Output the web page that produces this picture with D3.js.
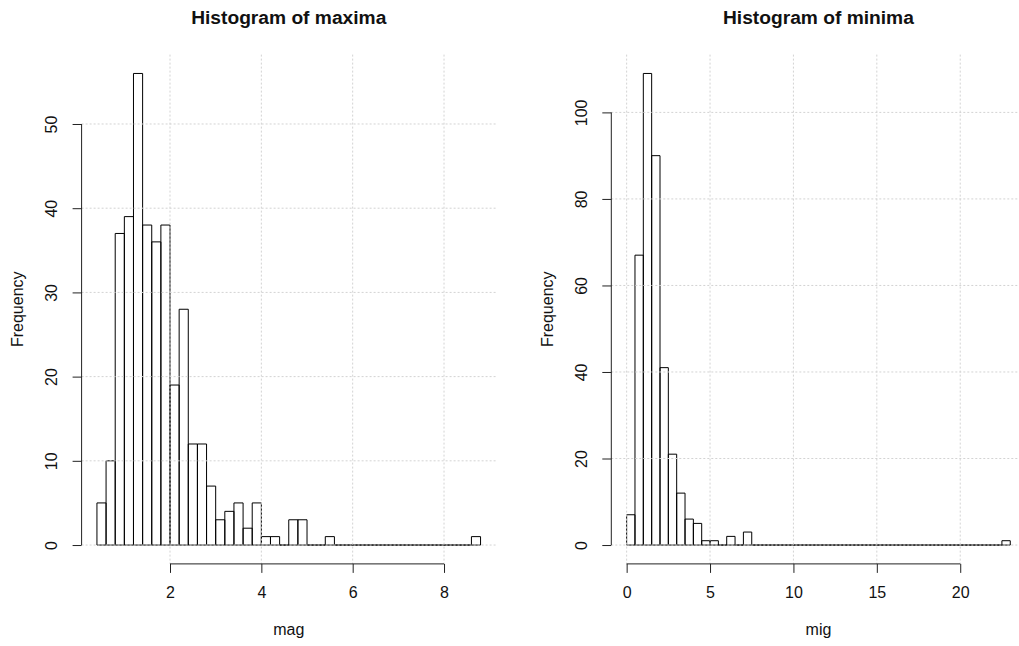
<!DOCTYPE html>
<html><head><meta charset="utf-8">
<script src="https://cdn.jsdelivr.net/npm/d3@7"></script>
<style>
body{margin:0;background:#fff}
svg{display:block}
text{font-family:"Liberation Sans",Arial,Helvetica,sans-serif;fill:#111}
</style>
</head><body>
<svg id="c" width="1019" height="646"></svg>
<script>
// ---- data ----
const maximaBreakStart = 0.4;
const maximaBinWidth = 0.2;
const maximaCounts = [5,10,37,39,56,38,36,38,19,28,12,12,7,3,4,5,2,5,1,1,0,3,3,0,0,1,
  0,0,0,0,0,0,0,0,0,0,0,0,0,0,0,1];
const maximaXTicks = [2,4,6,8];
const maximaYTicks = [0,10,20,30,40,50];

const minimaBreakStart = 0;
const minimaBinWidth = 0.5;
const minimaCounts = [7,67,109,90,41,21,12,6,5,1,1,0,2,0,3,
  0,0,0,0,0,0,0,0,0,0,0,0,0,0,0,0,0,0,0,0,0,0,0,0,0,0,0,0,0,0,1];
const minimaXTicks = [0,5,10,15,20];
const minimaYTicks = [0,20,40,60,80,100];

const titles = ["Histogram of maxima","Histogram of minima"];
const xLabels = ["mag","mig"];
const yLabel = "Frequency";

// ---- layout ----
const svg = d3.select("#c");
const plotTop = 54.6, plotBottom = 563.9;
const panels = [
  {left:81.6, right:495.9, start:maximaBreakStart, w:maximaBinWidth, counts:maximaCounts, xt:maximaXTicks, yt:maximaYTicks, title:titles[0], xl:xLabels[0]},
  {left:611.3, right:1025.6, start:minimaBreakStart, w:minimaBinWidth, counts:minimaCounts, xt:minimaXTicks, yt:minimaYTicks, title:titles[1], xl:xLabels[1]}
];

panels.forEach(p => {
  const n = p.counts.length;
  const b0 = p.start, bN = p.start + n*p.w;
  const span = bN - b0;
  const x = d3.scaleLinear().domain([b0 - 0.04*span, bN + 0.04*span]).range([p.left, p.right]);
  const maxC = d3.max(p.counts);
  const y = d3.scaleLinear().domain([-0.04*maxC, maxC*1.04]).range([plotBottom, plotTop]);
  const g = svg.append("g");

  const bins = p.counts.map((c,i) => ({x0: b0 + i*p.w, x1: b0 + (i+1)*p.w, c}));
  g.selectAll("path.bar").data(bins).enter().append("path")
    .attr("class","bar")
    .attr("d", d => `M${x(d.x0)},${y(0)}V${y(d.c)}H${x(d.x1)}V${y(0)}Z`)
    .attr("fill","none").attr("stroke","#000").attr("stroke-width",1);

  // grid (drawn after bars, as in the original)
  g.selectAll("line.vg").data(p.xt).enter().append("line")
    .attr("x1", d => x(d)).attr("x2", d => x(d))
    .attr("y1", plotTop).attr("y2", plotBottom)
    .attr("stroke","#d3d3d3").attr("stroke-dasharray","2,2");
  g.selectAll("line.hg").data(p.yt).enter().append("line")
    .attr("y1", d => y(d)).attr("y2", d => y(d))
    .attr("x1", p.left).attr("x2", p.right)
    .attr("stroke","#d3d3d3").attr("stroke-dasharray","2,2");

  // x axis
  const xa = g.append("g").attr("transform",`translate(0,${plotBottom})`)
    .call(d3.axisBottom(x).tickValues(p.xt).tickSize(9).tickPadding(14).tickFormat(d3.format("d")));
  xa.select(".domain").remove();
  xa.selectAll(".tick line").attr("stroke","#222");
  xa.selectAll(".tick text").attr("font-size","16px").attr("fill","#111");
  xa.append("line").attr("x1", x(p.xt[0])).attr("x2", x(p.xt[p.xt.length-1]))
    .attr("stroke","#222");
  xa.attr("font-family",null);

  // y axis
  const ya = g.append("g").attr("transform",`translate(${p.left},0)`)
    .call(d3.axisLeft(y).tickValues(p.yt).tickSize(9).tickFormat(d3.format("d")));
  ya.select(".domain").remove();
  ya.selectAll(".tick line").attr("stroke","#222");
  ya.selectAll(".tick text")
    .attr("x", null).attr("dy", null)
    .attr("text-anchor","middle")
    .attr("transform","translate(-24.6,0) rotate(-90)")
    .attr("font-size","16px").attr("fill","#111");
  ya.append("line").attr("y1", y(p.yt[0])).attr("y2", y(p.yt[p.yt.length-1]))
    .attr("stroke","#222");
  ya.attr("font-family",null);

  const cx = (p.left + p.right)/2;
  g.append("text").attr("x", cx).attr("y", 24).attr("text-anchor","middle")
    .attr("font-size","19.2px").attr("font-weight","bold").attr("fill","#000").text(p.title);
  g.append("text").attr("x", cx).attr("y", 635).attr("text-anchor","middle")
    .attr("font-size","16px").text(p.xl);
  g.append("text").attr("text-anchor","middle")
    .attr("transform",`translate(${p.left - 58.6},${(plotTop+plotBottom)/2}) rotate(-90)`)
    .attr("font-size","16px").text(yLabel);
});
</script>
</body></html>
